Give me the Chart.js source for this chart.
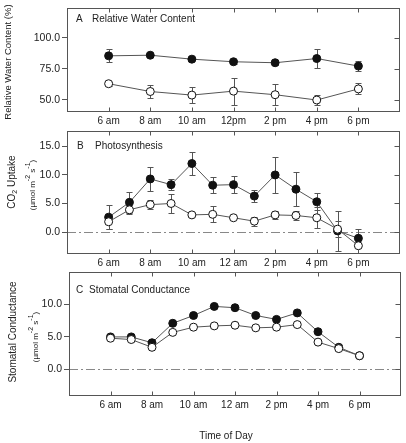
<!DOCTYPE html>
<html>
<head>
<meta charset="utf-8">
<script src="https://cdn.jsdelivr.net/npm/chart.js@4"></script>
<style>
body { margin: 0; background: #fff; }
#wrap { position: relative; width: 406px; height: 443px; }
#wrap canvas { position: absolute; left: 0; top: 0; }
</style>
</head>
<body>
<div id="wrap">
  <canvas id="panelA" width="406" height="443"></canvas>
  <canvas id="panelB" width="406" height="443"></canvas>
  <canvas id="panelC" width="406" height="443"></canvas>
</div>
<script>
/* A: relative water content, every two hours */
const rwcHours = [6, 8, 10, 12, 14, 16, 18];
const rwcLabels = ["6 am", "8 am", "10 am", "12pm", "2 pm", "4 pm", "6 pm"];
const rwcFilled = [85.5, 86, 82.8, 80.7, 79.9, 83.3, 77.2];
const rwcFilledErr = [5.3, 1, 1, 1.5, 2, 8, 4];
const rwcOpen = [62.9, 56.6, 53.7, 56.9, 54, 49.7, 58.7];
const rwcOpenErr = [1.5, 5, 6.3, 11, 8.4, 4, 4.5];
const rwcTicks = [50, 75, 100];

/* B and C: hourly */
const hours = [6, 7, 8, 9, 10, 11, 12, 13, 14, 15, 16, 17, 18];
const hourLabels = ["6 am", "8 am", "10 am", "12 am", "2 pm", "4 pm", "6 pm"];

const photoFilled = [2.6, 5.2, 9.3, 8.3, 12.0, 8.2, 8.3, 6.3, 10.0, 7.5, 5.3, 0.2, -1.1];
const photoFilledErr = [2.1, 1.8, 2.1, 1.0, 2.0, 1.4, 1.5, 1.0, 3.2, 3.0, 1.5, 3.5, 1.6];
const photoOpen = [1.8, 3.9, 4.8, 5.0, 3.0, 3.1, 2.5, 1.9, 3.0, 2.9, 2.5, 0.5, -2.4];
const photoOpenErr = [1.2, 0.8, 0.8, 1.6, 0, 1.4, 0, 0.8, 0.7, 0.8, 1.8, 1.4, 0];
const photoTicks = [0, 5, 10, 15];

const condFilled = [5.0, 5.0, 4.1, 7.1, 8.3, 9.7, 9.5, 8.3, 7.7, 8.7, 5.8, 3.4, 2.1];
const condOpen = [4.8, 4.6, 3.4, 5.7, 6.5, 6.7, 6.8, 6.4, 6.5, 6.9, 4.2, 3.2, 2.1];
const condTicks = [0, 5, 10];

const xTicks = [6, 8, 10, 12, 14, 16, 18];

const FONT = "'Liberation Sans', Arial, sans-serif";
const INK = "#222";
const FRAME = "#555";

// draw text pieces (sub/superscripts) rotated, centred on cx,cy
function drawRotated(ctx, pieces, cx, cy) {
    ctx.save();
    ctx.translate(cx, cy);
    ctx.rotate(-Math.PI / 2);
    ctx.fillStyle = INK;
    ctx.textBaseline = "middle";
    ctx.textAlign = "left";
    let w = 0;
    pieces.forEach(p => { ctx.font = p.s + "px " + FONT; w += ctx.measureText(p.t).width; });
    let x = -w / 2;
    pieces.forEach(p => {
        ctx.font = p.s + "px " + FONT;
        ctx.fillText(p.t, x, p.dy || 0);
        x += ctx.measureText(p.t).width;
    });
    ctx.restore();
}

const panelPlugin = {
    id: "panelDecor",
    beforeDatasetsDraw(chart) {
        const { ctx, chartArea: a, scales: { x, y } } = chart;
        const cfg = chart.options.plugins.panelDecor;
        ctx.save();
        if (cfg.zeroLine) {
            const zy = Math.round(y.getPixelForValue(0)) + 0.5;
            ctx.strokeStyle = "#888";
            ctx.lineWidth = 1;
            ctx.setLineDash([9, 3, 2, 3]);
            ctx.beginPath();
            ctx.moveTo(a.left, zy);
            ctx.lineTo(a.right, zy);
            ctx.stroke();
            ctx.setLineDash([]);
        }
        // error bars
        ctx.strokeStyle = "#555";
        ctx.lineWidth = 1;
        chart.data.datasets.forEach((ds, i) => {
            if (!ds.errors) return;
            ds.data.forEach((pt, j) => {
                const e = ds.errors[j];
                if (!e) return;
                const px = Math.round(x.getPixelForValue(pt.x)) + 0.5;
                const y1 = Math.round(y.getPixelForValue(pt.y + e)) + 0.5;
                const y2 = Math.round(y.getPixelForValue(pt.y - e)) + 0.5;
                ctx.beginPath();
                ctx.moveTo(px, y1); ctx.lineTo(px, y2);
                ctx.moveTo(px - 3, y1); ctx.lineTo(px + 3, y1);
                ctx.moveTo(px - 3, y2); ctx.lineTo(px + 3, y2);
                ctx.stroke();
            });
        });
        ctx.restore();
    },
    afterDraw(chart) {
        const { ctx, chartArea: a, scales: { x, y } } = chart;
        const cfg = chart.options.plugins.panelDecor;
        ctx.save();
        ctx.strokeStyle = FRAME;
        ctx.lineWidth = 1;
        const l = Math.round(a.left) + 0.5, r = Math.round(a.right) - 0.5;
        const t = Math.round(a.top) + 0.5, b = Math.round(a.bottom) - 0.5;
        ctx.strokeRect(l, t, r - l, b - t);
        ctx.beginPath();
        xTicks.forEach(v => {
            const px = Math.round(x.getPixelForValue(v)) + 0.5;
            ctx.moveTo(px, b); ctx.lineTo(px, b - 4);
            ctx.moveTo(px, t); ctx.lineTo(px, t + 4);
        });
        y.ticks.forEach(tk => {
            const py = Math.round(y.getPixelForValue(tk.value)) + 0.5;
            ctx.moveTo(r, py); ctx.lineTo(r - 5, py);
        });
        ctx.stroke();

        ctx.fillStyle = INK;
        ctx.font = "10px " + FONT;
        ctx.textBaseline = "middle";
        ctx.textAlign = "left";
        ctx.fillText(cfg.letter, cfg.letterX, cfg.labelY);
        ctx.fillText(cfg.name, cfg.nameX, cfg.labelY);

        cfg.titles.forEach(tl => drawRotated(ctx, tl.pieces, tl.x, tl.y));
        if (cfg.xTitle) {
            ctx.textAlign = "center";
            ctx.font = "10px " + FONT;
            ctx.fillText(cfg.xTitle, 226, 436);
        }
        ctx.restore();
    }
};

function series(xs, ys) {
    return ys.map((v, i) => ({ x: xs[i], y: v }));
}

function makePanel(id, box, yMin, yMax, yTicks, xLabels, xs, filled, filledErr, open, openErr, decor) {
    return new Chart(document.getElementById(id), {
        type: "line",
        data: {
            datasets: [
                {
                    data: series(xs, open),
                    errors: openErr,
                    borderColor: "#555",
                    borderWidth: 1,
                    pointRadius: 4,
                    pointBackgroundColor: "#fff",
                    pointBorderColor: "#111",
                    pointBorderWidth: 1
                },
                {
                    data: series(xs, filled),
                    errors: filledErr,
                    borderColor: "#555",
                    borderWidth: 1,
                    pointRadius: 4,
                    pointBackgroundColor: "#111",
                    pointBorderColor: "#111",
                    pointBorderWidth: 1
                }
            ]
        },
        options: {
            responsive: false,
            animation: false,
            devicePixelRatio: 1,
            layout: { padding: { left: box.l - 40, top: box.t, right: 406 - box.r, bottom: 443 - box.b - 20 } },
            plugins: {
                legend: { display: false },
                tooltip: { enabled: false },
                panelDecor: decor
            },
            scales: {
                x: {
                    type: "linear",
                    min: 4,
                    max: 20,
                    afterBuildTicks: ax => { ax.ticks = xTicks.map(v => ({ value: v })); },
                    afterFit: ax => { ax.height = 20; },
                    grid: { display: false, drawTicks: false },
                    border: { display: false },
                    ticks: {
                        padding: 3,
                        autoSkip: false,
                        maxRotation: 0,
                        color: INK,
                        font: { size: 10, family: FONT },
                        callback: (v, i) => xLabels[i]
                    }
                },
                y: {
                    min: yMin,
                    max: yMax,
                    afterBuildTicks: ax => { ax.ticks = yTicks.map(v => ({ value: v })); },
                    afterFit: ax => { ax.width = 40; },
                    grid: { drawOnChartArea: false, tickLength: 5, color: FRAME },
                    border: { display: false },
                    ticks: {
                        padding: 2,
                        color: INK,
                        font: { size: 10.5, family: FONT },
                        callback: v => v.toFixed(1)
                    }
                }
            }
        },
        plugins: [panelPlugin]
    });
}

makePanel("panelA", { l: 67, r: 400, t: 6, b: 112 }, 40, 124, rwcTicks, rwcLabels, rwcHours,
    rwcFilled, rwcFilledErr, rwcOpen, rwcOpenErr, {
        letter: "A", letterX: 76, name: "Relative Water Content", nameX: 92, labelY: 19,
        titles: [{ x: 8, y: 62, pieces: [{ t: "Relative Water Content (%)", s: 9.5 }] }]
    });

makePanel("panelB", { l: 67, r: 400, t: 131, b: 254 }, -3.85, 17.7, photoTicks, hourLabels, hours,
    photoFilled, photoFilledErr, photoOpen, photoOpenErr, {
        zeroLine: true,
        letter: "B", letterX: 77, name: "Photosynthesis", nameX: 95, labelY: 146,
        titles: [
            { x: 12, y: 182, pieces: [{ t: "CO", s: 10 }, { t: "2", s: 7, dy: 3 }, { t: " Uptake", s: 10 }] },
            { x: 33, y: 185, pieces: [{ t: "(µmol m", s: 8 }, { t: "-2", s: 7, dy: -5 }, { t: " s", s: 8 }, { t: "-1", s: 7, dy: -5 }, { t: ")", s: 8 }] }
        ]
    });

makePanel("panelC", { l: 69, r: 402, t: 272, b: 396 }, -4.1, 15, condTicks, hourLabels, hours,
    condFilled, null, condOpen, null, {
        zeroLine: true,
        letter: "C", letterX: 76, name: "Stomatal Conductance", nameX: 89, labelY: 290,
        xTitle: "Time of Day",
        titles: [
            { x: 13, y: 332, pieces: [{ t: "Stomatal Conductance", s: 10 }] },
            { x: 36, y: 337, pieces: [{ t: "(µmol m", s: 8 }, { t: "-2", s: 7, dy: -5 }, { t: " s", s: 8 }, { t: "-1", s: 7, dy: -5 }, { t: ")", s: 8 }] }
        ]
    });
</script>
</body>
</html>
